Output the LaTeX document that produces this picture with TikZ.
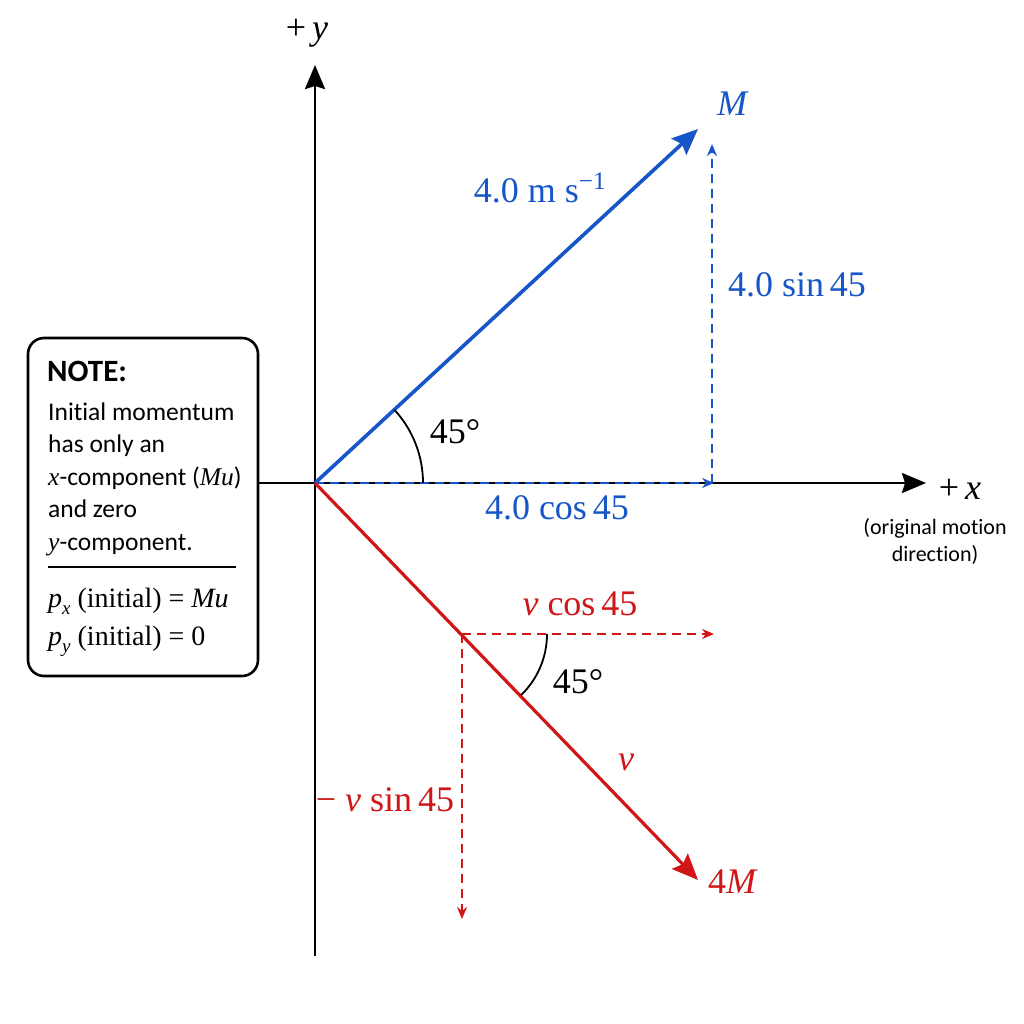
\RequirePackage{fix-cm}
\documentclass[tikz,border=0pt]{standalone}
\usepackage[no-math]{fontspec}
\newfontfamily\boxfont[Ligatures=NoCommon]{Carlito}
\newfontfamily\lab{Liberation Serif}
\usetikzlibrary{arrows.meta,calc}
\definecolor{vblue}{RGB}{22,86,200}
\definecolor{vred}{RGB}{208,22,22}
\newcommand{\iv}[1]{\textit{#1}}
\newcommand{\subx}[1]{\raisebox{-0.28em}{\fontsize{19}{21}\selectfont\textit{#1}}}
\newcommand{\degsym}{{\lab\char"00B0}}
\tikzset{
  axisline/.style={line width=2.6pt,black,-{Stealth[length=24pt,width=20pt,inset=3pt]}},
  bluevec/.style={line width=3.6pt,vblue,-{Stealth[length=26pt,width=22pt,inset=4pt]}},
  redvec/.style={line width=3.2pt,vred,-{Stealth[length=26pt,width=22pt,inset=4pt]}},
  bluedash/.style={line width=2pt,vblue,dash pattern=on 9pt off 6pt,-{Stealth[length=12pt,width=10pt]}},
  reddash/.style={line width=2pt,vred,dash pattern=on 9pt off 6pt,-{Stealth[length=12pt,width=10pt]}},
  anglearc/.style={line width=1.8pt,black},
  lbl/.style={inner sep=0pt,font=\lab\fontsize{36}{40}\selectfont},
  notebox/.style={draw,line width=2.6pt,rounded corners=16pt,minimum width=230pt,minimum height=338pt,inner sep=0pt,fill=white},
  boxtxt/.style={inner sep=0pt,anchor=base west,font=\boxfont\fontsize{25.5}{30}\selectfont},
  boxmath/.style={inner sep=0pt,anchor=base west,font=\lab\fontsize{28}{32}\selectfont},
  sidetxt/.style={inner sep=0pt,align=center,font=\boxfont\fontsize{22}{27}\selectfont}
}
\begin{document}
\begin{tikzpicture}[x=1pt,y=-1pt]
\useasboundingbox (0,0) rectangle (1024,1024);
\fill[white] (0,0) rectangle (1024,1024);
% coordinates
\coordinate (O) at (315,483);
\coordinate (ytip) at (315,65);
\coordinate (ybot) at (315,956);
\coordinate (xtip) at (926,483);
\coordinate (Mtip) at (698,129);
\coordinate (bx) at (714,483);
\coordinate (bxv) at (712,483);
\coordinate (by) at (712,144);
\coordinate (Rtip) at (698,880);
\coordinate (P) at (462,634);
\coordinate (rx) at (714,634);
\coordinate (ry) at (462,919);
% note box
\node[notebox] (note) at (143,507) {};
\node[boxtxt,font=\boxfont\bfseries\fontsize{31}{34}\selectfont] (n0) at (47,381) {NOTE:};
\node[boxtxt] (n1) at (48,420) {Initial momentum};
\node[boxtxt] (n2) at (48,452) {has only an};
\node[boxtxt] (n3) at (48,485) {{\lab\iv{x}}-component ({\lab\iv{Mu}})};
\node[boxtxt] (n4) at (48,517) {and zero};
\node[boxtxt] (n5) at (48,550) {{\lab\iv{y}}-component.};
\coordinate (r1) at (48,567);
\coordinate (r2) at (236,567);
\draw[line width=1.4pt] (r1) -- (r2);
\node[boxmath] (n6) at (48,607) {\iv{p}\subx{x} (initial) = \iv{Mu}};
\node[boxmath] (n7) at (48,645) {\iv{p}\subx{y} (initial) = 0};
% axes
\draw[line width=2.6pt] (note.east |- O) -- (O);
\draw[axisline] (O) -- (xtip);
\draw[axisline] (ybot) -- (ytip);
% blue components
\draw[bluedash] (O) -- (bx);
\draw[bluedash] (bxv) -- (by);
\draw[bluevec] (O) -- (Mtip);
% red components
\draw[reddash] (P) -- (rx);
\draw[reddash] (P) -- (ry);
\draw[redvec] (O) -- (Rtip);
% angle arcs
\draw[anglearc] ($(O)+(108,0)$) arc[start angle=0,end angle=-42.7,radius=108];
\draw[anglearc] ($(P)+(85,0)$) arc[start angle=0,end angle=46,radius=85];
% labels
\node[lbl] (ly) at (307,33) {+\,\iv{y}};
\node[lbl] (lx) at (960,489) {+\,\iv{x}};
\node[sidetxt] (lorig) at (935,541) {(original motion\\direction)};
\node[lbl,vblue] (lM) at (733,104) {\iv{M}};
\node[lbl,vblue] (lspeed) at (540,188) {4.0 m s\textsuperscript{−1}};
\node[lbl,vblue] (lsin) at (797,285) {4.0 sin\,45};
\node[lbl,vblue] (lcos) at (557,508) {4.0 cos\,45};
\node[lbl,black] (la1) at (455,432) {{\lab 45}\degsym};
\node[lbl,vred] (lvcos) at (580,604) {\iv{v} cos\,45};
\node[lbl,black] (la2) at (578,682) {{\lab 45}\degsym};
\node[lbl,vred] (lv) at (626,762) {\iv{v}};
\node[lbl,vred] (l4M) at (733,882) {4\iv{M}};
\node[lbl,vred] (lvsin) at (385,800) {− \iv{v} sin\,45};
\end{tikzpicture}
\end{document}
